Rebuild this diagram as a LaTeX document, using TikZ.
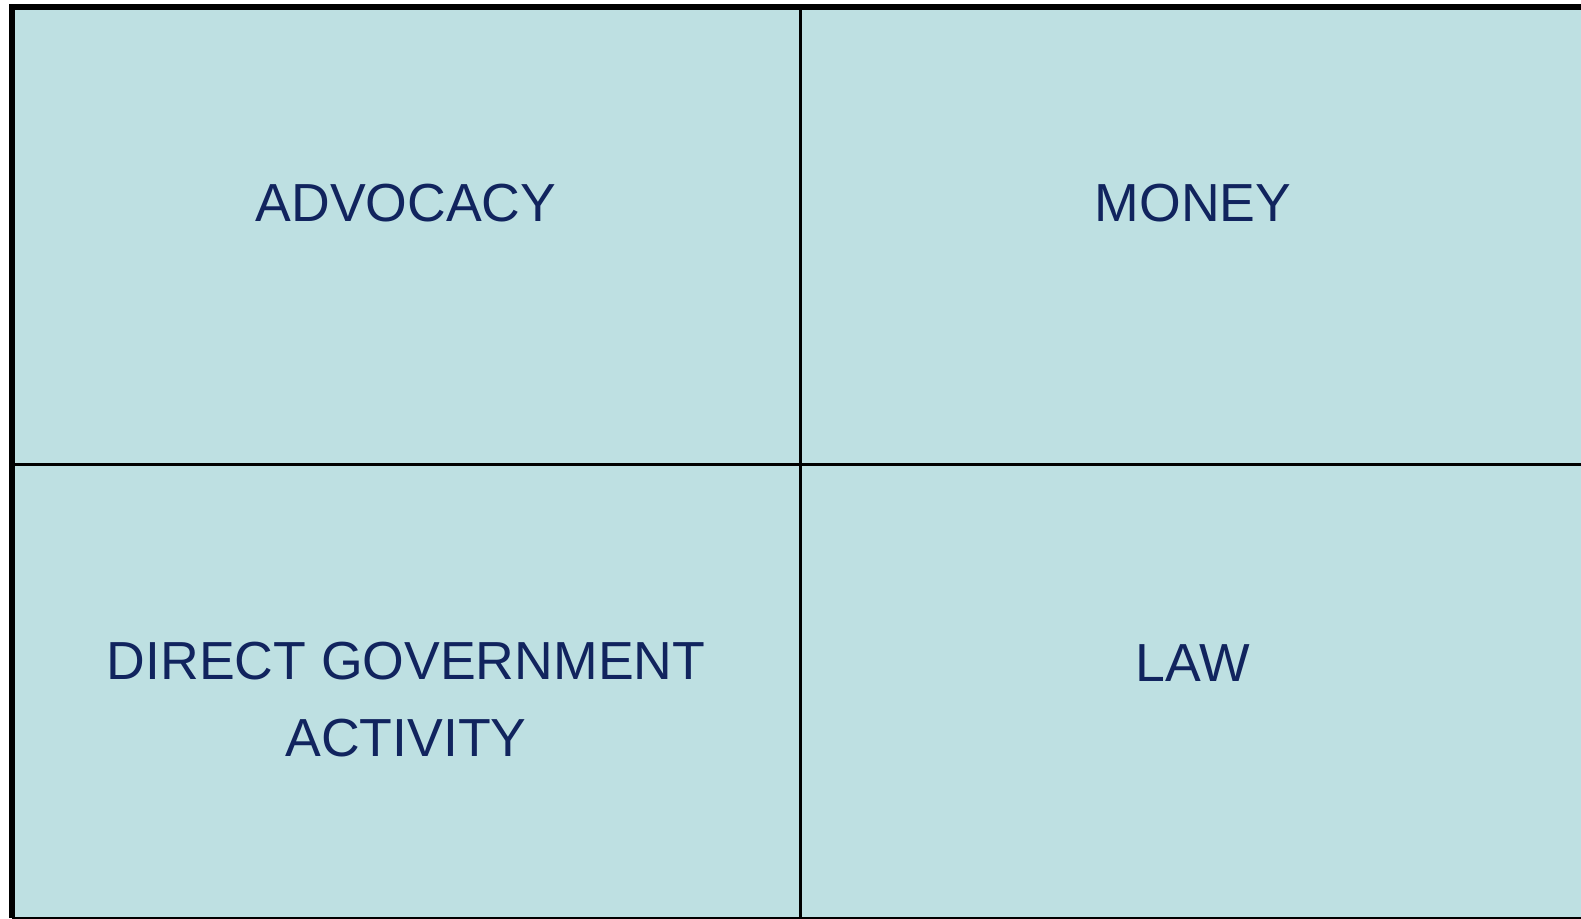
\documentclass[tikz,border=0pt]{standalone}
\usepackage{fontspec}
\setmainfont{Liberation Sans}
\usepackage{tikz}
\usetikzlibrary{positioning}
\definecolor{cellfill}{RGB}{190,224,226}
\definecolor{celltext}{RGB}{17,36,94}

\begin{document}
\begin{tikzpicture}[x=0.5pt, y=-0.5pt,
  frame/.style={line width=3pt, black},
  divider/.style={line width=1.5pt, black},
  label/.style={text=celltext, inner sep=0pt, align=center,
    font=\fontsize{26.8}{38.5}\selectfont}]
\useasboundingbox (0,0) rectangle (1581,919);
\fill[cellfill] (12,7) rectangle (1581,918);
\coordinate (tl) at (12,7);
\coordinate (tr) at (1581,7);
\coordinate (bl) at (12,918);
\coordinate (br) at (1581,918);
\coordinate (mt) at (800,7);
\coordinate (mb) at (800,918);
\coordinate (ml) at (12,465);
\coordinate (mr) at (1581,465);
\draw[frame] (bl) -- (tl) -- (tr);
\draw[divider] (mt) -- (mb);
\draw[divider] (ml) -- (mr);
\draw[line width=1pt] (bl) -- (br);
\node[label] (advocacy) at (406,203) {ADVOCACY};
\node[label] (money) at (1193,203) {MONEY};
\node[label] (direct) at (406,700) {DIRECT GOVERNMENT\\ACTIVITY};
\node[label] (law) at (1193,663) {LAW};
\end{tikzpicture}
\end{document}
